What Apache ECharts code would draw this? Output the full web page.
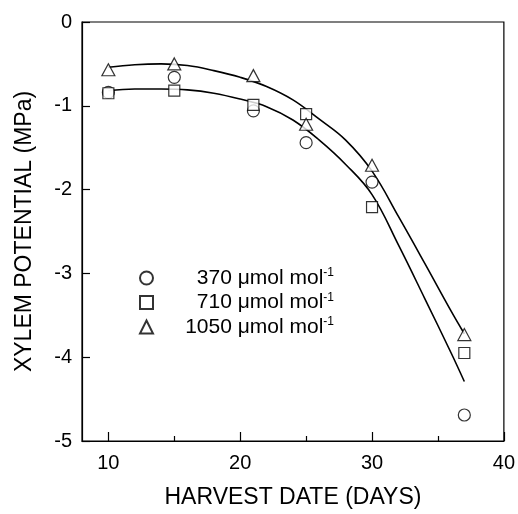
<!DOCTYPE html>
<html>
<head>
<meta charset="utf-8">
<script src="https://cdn.jsdelivr.net/npm/echarts@6/dist/echarts.min.js"></script>
<style>html,body{margin:0;padding:0;background:#fff}#c{width:518px;height:514px}</style>
</head>
<body>
<div id="c"></div>
<script>
// Measured points
const days = [10, 15, 21, 25, 30, 37];
const psi370 = [-0.84, -0.66, -1.06, -1.44, -1.91, -4.69];
const psi710 = [-0.85, -0.82, -0.99, -1.10, -2.21, -3.95];
const psi1050 = [-0.57, -0.50, -0.64, -1.22, -1.71, -3.73];
// Fitted curves
const curveDays = [10, 12, 14, 16, 18, 20, 22, 24, 26, 28, 30, 32, 34, 36, 37];
const fitUpper = [-0.54, -0.51, -0.50, -0.52, -0.58, -0.66, -0.77, -0.93, -1.16, -1.41, -1.78, -2.32, -2.88, -3.45, -3.72];
const fitLower = [-0.82, -0.80, -0.80, -0.81, -0.85, -0.92, -1.01, -1.17, -1.41, -1.70, -2.06, -2.66, -3.30, -3.95, -4.29];
// Axis ticks
const xMajorTicks = [10, 20, 30, 40];
const xMinorTicks = [15, 25, 35];
const seriesNames = ['370', '710', '1050'];

const FONT = "'Liberation Sans', Arial, sans-serif";
const pair = (xs, ys) => xs.map((x, i) => [x, ys[i]]);
const chart = echarts.init(document.getElementById('c'), null, {renderer: 'canvas'});

const markerStyle = {color: '#fff', borderColor: '#000', borderWidth: 1.2};
const lineStyle = {color: '#000', width: 1.2};

chart.setOption({
  animation: false,
  backgroundColor: '#fff',
  grid: {left: 82, right: 13, top: 22, bottom: 69, show: true, borderColor: '#000', borderWidth: 1.2, backgroundColor: 'transparent'},
  legend: {
    orient: 'vertical', left: 134, top: 262, itemWidth: 13, itemHeight: 13, itemGap: 3,
    data: seriesNames,
    formatter: n => '{n|' + n + ' \u03bcmol mol}{s|-1}',
    textStyle: {
      fontFamily: FONT, fontSize: 21, color: '#000', width: 176,
      rich: {
        n: {fontFamily: FONT, fontSize: 21, color: '#000', lineHeight: 22, align: 'right'},
        s: {fontFamily: FONT, fontSize: 12, color: '#000', lineHeight: 12, verticalAlign: 'top', align: 'right'}
      }
    }
  },
  xAxis: [
    {
      type: 'value', min: 8, max: 40, position: 'bottom',
      name: 'HARVEST DATE (DAYS)', nameLocation: 'middle', nameGap: 45,
      nameTextStyle: {fontFamily: FONT, fontSize: 23, color: '#000'},
      axisLine: {show: true, onZero: false, lineStyle: lineStyle},
      axisTick: {show: true, inside: true, length: 9, customValues: xMajorTicks, lineStyle: lineStyle},
      axisLabel: {customValues: xMajorTicks, margin: 12, fontFamily: FONT, fontSize: 20, color: '#000'},
      splitLine: {show: false}
    },
    {
      type: 'value', min: 8, max: 40, position: 'bottom',
      axisLine: {show: false, onZero: false},
      axisTick: {show: true, inside: true, length: 5, customValues: xMinorTicks, lineStyle: lineStyle},
      axisLabel: {show: false},
      splitLine: {show: false}
    }
  ],
  yAxis: {
    type: 'value', min: -5, max: 0, interval: 1,
    name: 'XYLEM POTENTIAL (MPa)', nameLocation: 'middle', nameGap: 46,
    nameTextStyle: {fontFamily: FONT, fontSize: 23, color: '#000'},
    axisLine: {show: true, onZero: false, lineStyle: lineStyle},
    axisTick: {show: true, inside: true, length: 8, lineStyle: lineStyle},
    axisLabel: {margin: 10, fontFamily: FONT, fontSize: 20, color: '#000'},
    splitLine: {show: false}
  },
  series: [
    {name: 'fit upper', type: 'line', data: pair(curveDays, fitUpper), smooth: 0.4, symbol: 'none',
     lineStyle: {color: '#000', width: 1.6}, silent: true, z: 2},
    {name: 'fit lower', type: 'line', data: pair(curveDays, fitLower), smooth: 0.4, symbol: 'none',
     lineStyle: {color: '#000', width: 1.6}, silent: true, z: 2},
    {name: '370', type: 'scatter', data: pair(days, psi370), symbol: 'circle', symbolSize: 12, itemStyle: markerStyle, z: 3},
    {name: '710', type: 'scatter', data: pair(days, psi710), symbol: 'rect', symbolSize: 11, itemStyle: markerStyle, z: 4},
    {name: '1050', type: 'scatter', data: pair(days, psi1050), symbol: 'triangle', symbolSize: [13, 12], itemStyle: markerStyle, z: 5}
  ]
});
</script>
</body>
</html>
